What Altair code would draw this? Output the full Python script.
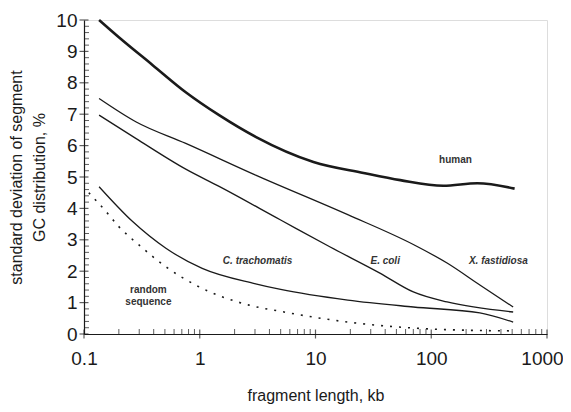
import altair as alt
import pandas as pd

# ---- data ----
human_x = [0.135, 0.2, 0.39, 0.757, 1.47, 3.04, 9.6, 26, 54, 127, 250, 525]
human_y = [10.0, 9.45, 8.57, 7.7, 6.97, 6.28, 5.48, 5.13, 4.9, 4.72, 4.8, 4.63]

xfast_x = [0.135, 0.28, 0.757, 3.04, 19, 70, 137, 263, 510]
xfast_y = [7.5, 6.76, 6.07, 5.06, 3.8, 2.85, 2.26, 1.56, 0.86]

ecoli_x = [0.135, 0.28, 0.757, 1.47, 5.0, 13.4, 36, 70, 137, 510]
ecoli_y = [6.97, 6.23, 5.25, 4.7, 3.63, 2.77, 1.94, 1.34, 1.02, 0.7]

ctra_x = [0.135, 0.263, 0.51, 1.05, 3.04, 5.0, 19, 70, 263, 510]
ctra_y = [4.69, 3.58, 2.73, 2.09, 1.6, 1.42, 1.08, 0.86, 0.67, 0.38]

random_x = [0.11, 0.155, 0.2, 0.3, 0.51, 0.92, 2.66, 5.0, 19, 70, 200, 510]
random_y = [4.5, 3.9, 3.42, 2.83, 2.14, 1.56, 0.92, 0.72, 0.38, 0.19, 0.12, 0.1]

x_major = [0.1, 1, 10, 100, 1000]
x_minor = [round(k * 10 ** d, 4) for d in range(-1, 3) for k in range(2, 10)]
y_major = list(range(0, 11))
y_minor = [round(i * 0.2, 2) for i in range(0, 51) if i % 5 != 0]

plain_labels = ["human", "random", "sequence"]
plain_lx = [162, 0.36, 0.36]
plain_ly = [5.54, 1.4, 1.02]
italic_labels = ["C. trachomatis", "E. coli", "X. fastidiosa"]
italic_lx = [3.16, 40, 380]
italic_ly = [2.32, 2.32, 2.32]

FONT = "Liberation Sans"
INK = "#1a1a1a"

xs = alt.Scale(type="log", domain=[0.1, 1000], nice=False)
ys = alt.Scale(domain=[0, 10], nice=False)

X = alt.X("x:Q", scale=xs, axis=alt.Axis(
    values=x_major, format="~g", ticks=False, grid=False,
    domainColor=INK, domainWidth=1.2, labelFont=FONT, labelFontSize=19,
    labelColor=INK, labelPadding=15, labelFlush=False,
    labelOffset={"condition": {"test": "datum.value >= 1000", "value": -5}, "value": 0},
    title="fragment length, kb", titleFont=FONT, titleFontSize=16,
    titleFontWeight="normal", titleColor=INK, titlePadding=19))
Y = alt.Y("y:Q", scale=ys, axis=alt.Axis(
    values=y_major, ticks=False, grid=False,
    domainColor=INK, domainWidth=1.2, labelFont=FONT, labelFontSize=19,
    labelColor=INK, labelPadding=7,
    title=["standard deviation of segment", "GC distribution, %"],
    titleFont=FONT, titleFontSize=16, titleFontWeight="normal",
    titleColor=INK, titlePadding=8, titleLineHeight=23))


def series(xv, yv):
    return pd.DataFrame({"x": xv, "y": yv})


human = alt.Chart(series(human_x, human_y)).mark_line(
    color=INK, strokeWidth=2.6, interpolate="monotone").encode(x=X, y=Y)

thin_df = pd.concat([
    series(xfast_x, xfast_y).assign(s="xf"),
    series(ecoli_x, ecoli_y).assign(s="ec"),
    series(ctra_x, ctra_y).assign(s="ct"),
])
thin = alt.Chart(thin_df).mark_line(
    color=INK, strokeWidth=1.3, interpolate="monotone").encode(
    x=X, y=Y, detail="s:N")

rand = alt.Chart(series(random_x, random_y)).mark_line(
    color=INK, strokeWidth=1.6, strokeDash=[2, 7], interpolate="monotone"
).encode(x=X, y=Y)

ytick_major = alt.Chart(pd.DataFrame({"x": [0.1] * len(y_major), "y": y_major})).mark_tick(
    orient="horizontal", size=9, thickness=1.2, color=INK).encode(x=X, y=Y)
ytick_minor = alt.Chart(pd.DataFrame({"x": [0.1] * len(y_minor), "y": y_minor})).mark_tick(
    orient="horizontal", size=5, thickness=1, color=INK, xOffset=2.5).encode(x=X, y=Y)
xtick_major = alt.Chart(pd.DataFrame({"x": x_major, "y": [0] * len(x_major)})).mark_tick(
    orient="vertical", size=9, thickness=1.2, color=INK).encode(x=X, y=Y)
xtick_minor = alt.Chart(pd.DataFrame({"x": x_minor, "y": [0] * len(x_minor)})).mark_tick(
    orient="vertical", size=5, thickness=1, color=INK, yOffset=-2.5).encode(x=X, y=Y)

plain_txt = alt.Chart(pd.DataFrame({"x": plain_lx, "y": plain_ly, "t": plain_labels})).mark_text(
    font=FONT, fontSize=10, fontWeight="bold", color="#333333").encode(x=X, y=Y, text="t:N")
italic_txt = alt.Chart(pd.DataFrame({"x": italic_lx, "y": italic_ly, "t": italic_labels})).mark_text(
    font=FONT, fontSize=10, fontWeight="bold", fontStyle="italic", color="#333333").encode(
    x=X, y=Y, text="t:N")

chart = alt.layer(
    human, thin, rand, ytick_major, ytick_minor, xtick_major, xtick_minor,
    plain_txt, italic_txt
).properties(
    width=463, height=314,
    autosize=alt.AutoSizeParams(type="none"),
    padding={"left": 76, "top": 12, "right": 16, "bottom": 70},
).configure_view(stroke=None).configure(background="white")

chart.save("out.html", embed_options={"renderer": "svg", "actions": False})
